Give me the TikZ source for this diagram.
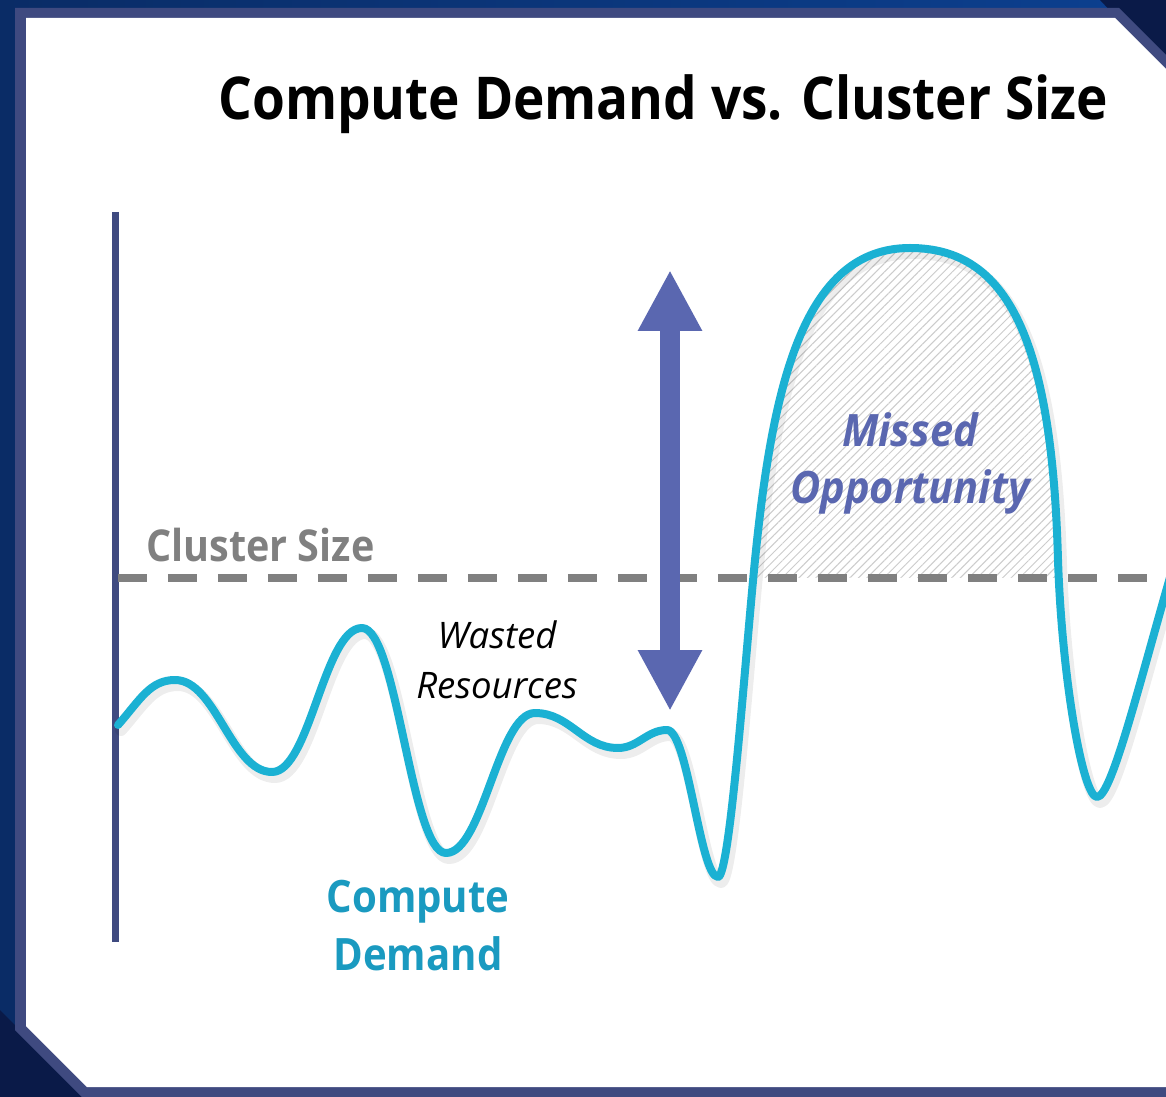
\documentclass[tikz,border=0pt]{standalone}
\usepackage{fontspec}
\setmainfont{Open Sans}[BoldFeatures={FakeStretch=0.9},BoldItalicFeatures={FakeStretch=0.93}]
\usetikzlibrary{arrows.meta,patterns.meta}

\definecolor{framecol}{HTML}{3F4A80}
\definecolor{bgblue}{HTML}{0C4090}
\definecolor{bgdark}{HTML}{0A2C66}
\definecolor{navy}{HTML}{0A1A48}
\definecolor{demand}{HTML}{1BB1D3}
\definecolor{demandtext}{HTML}{1A9AC0}
\definecolor{slate}{HTML}{5A67B0}
\definecolor{sizegray}{HTML}{808080}

% the demand curve, one path reused for its shadow and its stroke
\newcommand{\demandcurve}[1]{%
  \draw[#1] (118,725) .. controls (140,700) and (150,680) .. (175,680)
    .. controls (216,680) and (231,772) .. (272,772)
    .. controls (310,772) and (324,628) .. (362,628)
    .. controls (397,628) and (411,853) .. (446,853)
    .. controls (483,853) and (498,713) .. (535,713)
    .. controls (570,713) and (583,748) .. (618,748)
    .. controls (638,748) and (647,730) .. (667,730)
    .. controls (688,730) and (700,877) .. (718,877)
    .. controls (730,877) and (745,660) .. (755,560)
    .. controls (773,380) and (805,248) .. (910,248)
    .. controls (1008,248) and (1052,340) .. (1058,560)
    .. controls (1062,680) and (1083,797) .. (1097,797)
    .. controls (1112,797) and (1140,680) .. (1175,560);}

\begin{document}
\begin{tikzpicture}[x=0.02cm,y=-0.02cm,
  axisline/.style={draw=framecol,line width=0.13cm},
  sizeline/.style={draw=sizegray,line width=0.16cm,dash pattern=on 0.58cm off 0.42cm},
  curvestroke/.style={draw=demand,line width=0.16cm,line cap=round,line join=round},
  curveshadow/.style={draw=black,opacity=0.07,line width=0.24cm,line cap=round,line join=round,shift={(3,5)}},
  gaparrow/.style={draw=slate,line width=0.4cm,
    {Triangle[length=1.22cm,width=1.2cm]}-{Triangle[length=1.22cm,width=1.2cm]}},
  hatch/.style={pattern={Lines[angle=45,distance=0.12cm,line width=0.02cm]},pattern color=black!20}]

\useasboundingbox (0,0) rectangle (1166,1097);
\clip (0,0) rectangle (1166,1097);

% backdrop and framed panel with cut corners
\shade[left color=bgdark,right color=bgblue] (0,0) rectangle (1166,1097);
\fill[navy] (1100,0) -- (1166,0) -- (1166,70) -- cycle;
\fill[navy] (0,1010) -- (100,1110) -- (0,1110) -- cycle;
\fill[framecol] (15,8) -- (1119,8) -- (1210,99) -- (1210,1120) -- (95,1120) -- (95,1110) -- (15,1030) -- cycle;
\fill[white] (26,18) -- (1115,18) -- (1210,113) -- (1210,1087) -- (87,1087) -- (26,1026) -- cycle;

% hatched area above the cluster size
\begin{scope}
  \clip (700,200) rectangle (1100,578);
  \fill[hatch] (718,877) .. controls (730,877) and (745,660) .. (755,560)
    .. controls (773,380) and (805,248) .. (910,248)
    .. controls (1008,248) and (1052,340) .. (1058,560)
    .. controls (1062,680) and (1083,797) .. (1097,797) -- cycle;
\end{scope}

% axis and cluster size level
\coordinate (axTop) at (115.5,212);
\coordinate (axBot) at (115.5,942);
\draw[axisline] (axTop) -- (axBot);

\coordinate (csLeft) at (118,578);
\coordinate (csRight) at (1180,578);
\draw[sizeline] (csLeft) -- (csRight);

% compute demand
\demandcurve{curveshadow}
\demandcurve{curvestroke}

% gap between demand and cluster size
\coordinate (gapTop) at (670,270);
\coordinate (gapBot) at (670,711);
\draw[gaparrow] (gapTop) -- (gapBot);

% labels (a multi-line node sits on the baseline of its last line)
\node[anchor=base west,inner sep=0,font=\bfseries\fontsize{33.6}{40}\selectfont] (title) at (218,120) {Compute Demand vs. Cluster Size};
\node[anchor=base west,inner sep=0,text=sizegray,font=\bfseries\fontsize{25}{30}\selectfont] (clustersize) at (146,562) {Cluster Size};
\node[anchor=base,inner sep=0,align=center,font=\itshape\fontsize{20.8}{28.4}\selectfont] (wasted) at (497,698) {Wasted\\Resources};
\node[anchor=base,inner sep=0,align=center,text=slate,font=\bfseries\itshape\fontsize{25.4}{32.9}\selectfont] (missed) at (910,504) {Missed\\Opportunity};
\node[anchor=base,inner sep=0,align=center,text=demandtext,font=\bfseries\fontsize{25.4}{32.9}\selectfont] (demandlabel) at (418,970) {Compute\\Demand};

\end{tikzpicture}
\end{document}
